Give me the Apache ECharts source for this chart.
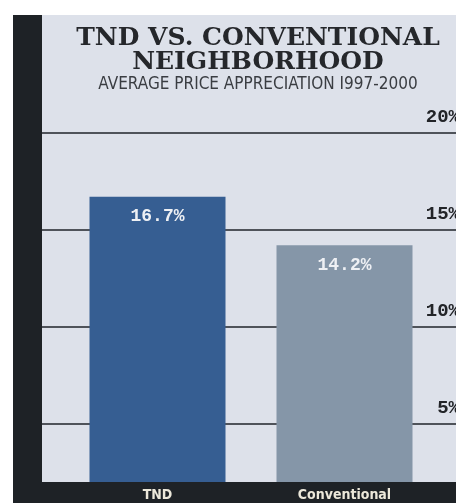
<!DOCTYPE html>
<html>
<head>
<meta charset="utf-8">
<script src="https://cdn.jsdelivr.net/npm/echarts@6/dist/echarts.min.js"></script>
<style>html,body{margin:0;padding:0;background:#fff;}#c{width:456px;height:503px;}</style>
</head>
<body>
<div id="c"></div>
<script>
const categories = ['TND', 'Conventional'];
const values = [16.7, 14.2];
const barColors = ['#365e92', '#8596a8'];
const yTicks = [0, 5, 10, 15, 20];
const titleText = 'TND VS. CONVENTIONAL\nNEIGHBORHOOD';
const subText = 'AVERAGE PRICE APPRECIATION I997-2000';

const chart = echarts.init(document.getElementById('c'));
const yMin = yTicks[0], yMax = yTicks[yTicks.length - 1], yStep = yTicks[1] - yTicks[0];
const condensed = 'Liberation Sans Narrow, DejaVu Sans Condensed, sans-serif';

chart.setOption({
  backgroundColor: '#ffffff',
  animation: false,
  graphic: [
    { type: 'rect', z: -10, shape: { x: 42, y: 15, width: 414, height: 488 }, style: { fill: '#dde1ea' } },
    { type: 'rect', z: -10, shape: { x: 13, y: 15, width: 29, height: 488 }, style: { fill: '#1e2226' } },
    { type: 'rect', z: 50, shape: { x: 13, y: 482, width: 443, height: 21 }, style: { fill: '#1e2226' } }
  ],
  title: {
    text: titleText,
    subtext: subText,
    left: 253,
    top: 21,
    textAlign: 'center',
    itemGap: 1,
    textStyle: { fontFamily: 'DejaVu Serif', fontWeight: 'bold', fontSize: 25, lineHeight: 24, color: '#25272b' },
    subtextStyle: { fontFamily: condensed, fontSize: 17, color: '#3a3d42' }
  },
  grid: [
    { left: 42, right: 0, top: 133, bottom: -17, outerBoundsMode: 'none', containLabel: false },
    { left: 64, right: 18, top: 133, bottom: -17, outerBoundsMode: 'none', containLabel: false }
  ],
  xAxis: [
    { gridIndex: 0, type: 'value', show: false, min: 0, max: 1 },
    {
      gridIndex: 1, type: 'category', data: categories, z: 60,
      axisLine: { show: false }, axisTick: { show: false },
      axisLabel: { margin: -32, color: '#ece8da', fontFamily: condensed, fontWeight: 'bold', fontSize: 14 }
    }
  ],
  yAxis: [
    {
      gridIndex: 0, type: 'value', position: 'right', min: yMin, max: yMax, interval: yStep,
      axisLine: { show: false }, axisTick: { show: false },
      splitLine: { show: true, lineStyle: { color: '#4f535a', width: 2 } },
      axisLabel: {
        inside: true, margin: -4, verticalAlign: 'bottom', padding: [0, 0, 6, 0],
        formatter: v => v === 0 ? '' : v + '%',
        color: '#222428', fontFamily: 'Liberation Mono', fontWeight: 'bold', fontSize: 19
      }
    },
    { gridIndex: 1, type: 'value', show: false, min: yMin, max: yMax, interval: yStep, splitLine: { show: false } }
  ],
  series: [{
    type: 'bar',
    xAxisIndex: 1, yAxisIndex: 1,
    barWidth: 136,
    data: values.map((v, i) => ({ value: v, itemStyle: { color: barColors[i] } })),
    label: {
      show: true, position: 'insideTop', distance: 11,
      formatter: p => p.value + '%',
      color: '#eef0f4', fontFamily: 'Liberation Mono', fontWeight: 'bold', fontSize: 18
    }
  }]
});
</script>
</body>
</html>
